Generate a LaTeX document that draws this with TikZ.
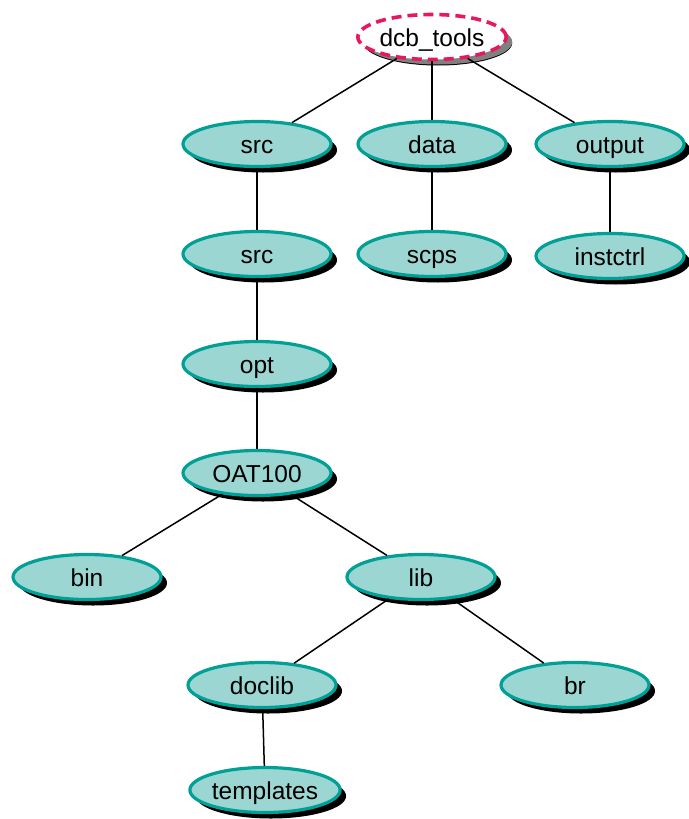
\documentclass[tikz,border=0pt]{standalone}
\usepackage{fontspec}
\setmainfont{Liberation Sans}
\usetikzlibrary{shapes.geometric,shadows}

\definecolor{dirfill}{RGB}{155,214,210}
\definecolor{dirline}{RGB}{0,160,150}
\definecolor{rootline}{RGB}{232,24,94}

\begin{document}
\begin{tikzpicture}[x = 1pt, y = -1pt,
	dir/.style = {ellipse, draw = dirline, line width = 3.2pt, fill = dirfill,
		minimum width = 148pt, minimum height = 45pt, inner sep = 0pt,
		text height = 18pt, text depth = 0pt,
		font = \fontsize{24.5}{28}\selectfont,
		drop shadow = {shadow xshift = 6pt, shadow yshift = -6pt, fill = black, opacity = 1}},
	root/.style = {dir, draw = rootline, fill = white, line width = 3.6pt,
		dash pattern = on 10pt off 6pt,
		drop shadow = {shadow xshift = 6pt, shadow yshift = -5pt, fill = gray, opacity = 1}},
	link/.style = {line width = 1.5pt}]
	\useasboundingbox (0,0) rectangle (688,819);
	\node[root] (tools) at (432,37) {dcb\_tools};
	\node[dir] (src) at (257,144) {src};
	\node[dir] (data) at (432,144) {data};
	\node[dir] (output) at (610,144) {output};
	\node[dir] (srcb) at (257,254) {src};
	\node[dir] (scps) at (432,254) {scps};
	\node[dir] (instctrl) at (610,256) {instctrl};
	\node[dir] (opt) at (257,364) {opt};
	\node[dir] (oat) at (257,473) {OAT100};
	\node[dir] (bin) at (87,577) {bin};
	\node[dir] (lib) at (421,577) {lib};
	\node[dir] (doclib) at (262,685) {doclib};
	\node[dir] (br) at (575,685) {br};
	\node[dir] (templates) at (265,790) {templates};
	\begin{scope}[on background layer/.try]
	\draw[link] (tools) -- (src);
	\draw[link] (tools) -- (data);
	\draw[link] (tools) -- (output);
	\draw[link] (src) -- (srcb);
	\draw[link] (data) -- (scps);
	\draw[link] (output) -- (instctrl);
	\draw[link] (srcb) -- (opt);
	\draw[link] (opt) -- (oat);
	\draw[link] (oat) -- (bin);
	\draw[link] (oat) -- (lib);
	\draw[link] (lib) -- (doclib);
	\draw[link] (lib) -- (br);
	\draw[link] (doclib) -- (templates);
	\end{scope}
\end{tikzpicture}
\end{document}
